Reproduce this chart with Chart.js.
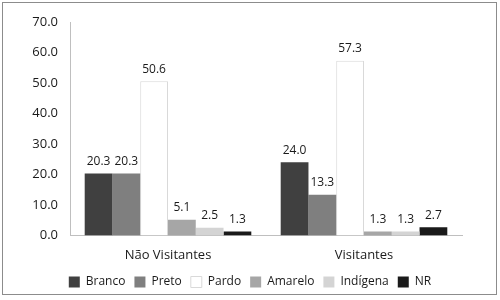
<!DOCTYPE html>
<html><head><meta charset="utf-8">
<script src="https://cdn.jsdelivr.net/npm/chart.js@4"></script>
<style>html,body{margin:0;padding:0;background:#fff}#w{width:500px;height:300px}</style>
</head><body><div id="w"><canvas id="c" width="500" height="300"></canvas></div>
<script>
const categories = ["Não Visitantes", "Visitantes"];
const seriesNames = ["Branco", "Preto", "Pardo", "Amarelo", "Indígena", "NR"];
const branco = [20.3, 24.0];
const preto = [20.3, 13.3];
const pardo = [50.6, 57.3];
const amarelo = [5.1, 1.3];
const indigena = [2.5, 1.3];
const nr = [1.3, 2.7];
const yTicks = [0, 10, 20, 30, 40, 50, 60, 70];

const seriesValues = [branco, preto, pardo, amarelo, indigena, nr];
const fills = ["#404040", "#7f7f7f", "#ffffff", "#a6a6a6", "#d4d4d4", "#1a1a1a"];
const borders = ["#404040", "#7f7f7f", "#d9d9d9", "#a6a6a6", "#d4d4d4", "#1a1a1a"];
const FONT = "'Open Sans', sans-serif";

const labelsPlugin = {
  id: 'vlabels',
  afterDatasetsDraw(chart) {
    const ctx = chart.ctx;
    ctx.save();
    ctx.font = "12px " + FONT;
    ctx.fillStyle = "#1a1a1a";
    ctx.textAlign = "center";
    ctx.textBaseline = "bottom";
    chart.data.datasets.forEach((ds, i) => {
      chart.getDatasetMeta(i).data.forEach((bar, j) => {
        ctx.fillText(ds.data[j].toFixed(1), bar.x, bar.y - 6);
      });
    });
    ctx.restore();
  }
};
const framePlugin = {
  id: 'frame',
  beforeDraw(chart) {
    const ctx = chart.ctx;
    ctx.save();
    ctx.fillStyle = "#fff";
    ctx.fillRect(0, 0, chart.width, chart.height);
    ctx.strokeStyle = "#8c8c8c";
    ctx.lineWidth = 1;
    ctx.strokeRect(2.5, 2.5, 494, 292);
    ctx.restore();
  }
};

new Chart(document.getElementById('c'), {
  type: 'bar',
  data: {
    labels: categories,
    datasets: seriesNames.map((n, i) => ({
      label: n,
      data: seriesValues[i],
      backgroundColor: fills[i],
      borderColor: borders[i],
      borderWidth: i === 2 ? 1 : 0,
      barPercentage: 1.0,
      categoryPercentage: 0.85
    }))
  },
  options: {
    responsive: false,
    animation: false,
    layout: { padding: { top: 22, right: 0, bottom: 2, left: 0 } },
    plugins: {
      tooltip: { enabled: false },
      legend: {
        position: 'bottom',
        labels: { font: { family: FONT, size: 12 }, color: "#1a1a1a", boxWidth: 11, boxHeight: 11, padding: 9 }
      }
    },
    scales: {
      x: {
        grid: { display: false },
        border: { display: true, color: "#bfbfbf" },
        ticks: { font: { family: FONT, size: 13 }, color: "#1a1a1a", padding: 4 }
      },
      y: {
        min: 0, max: 70,
        afterBuildTicks(s) { s.ticks = yTicks.map(v => ({ value: v })); },
        afterFit(s) { s.width = 70; },
        grid: { display: false, drawTicks: false },
        border: { display: true, color: "#bfbfbf" },
        ticks: { font: { family: FONT, size: 13 }, color: "#1a1a1a", padding: 12,
          callback: v => Number(v).toFixed(1) }
      },
      ySpacer: {
        type: 'linear',
        position: 'right',
        afterFit(s) { s.width = 38; },
        grid: { display: false, drawTicks: false },
        border: { display: false },
        ticks: { display: false }
      }
    }
  },
  plugins: [labelsPlugin, framePlugin]
});
</script></body></html>
